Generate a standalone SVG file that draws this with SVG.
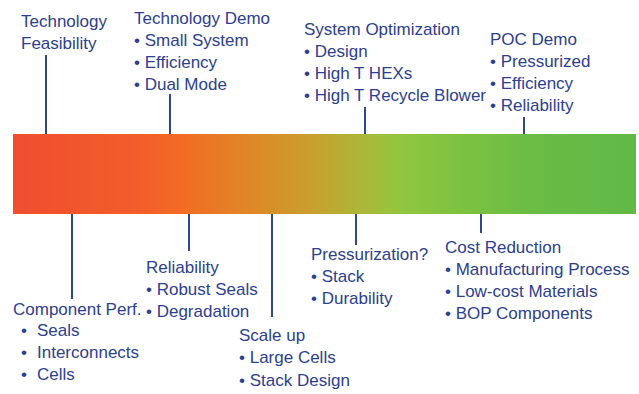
<svg xmlns="http://www.w3.org/2000/svg" width="639" height="394" viewBox="0 0 639 394">
  <defs>
    <linearGradient id="timeline" x1="0" y1="0" x2="1" y2="0">
      <stop offset="0" stop-color="#ef4e2f"/>
      <stop offset="0.2" stop-color="#f25d2a"/>
      <stop offset="0.27" stop-color="#f26b24"/>
      <stop offset="0.38" stop-color="#df8726"/>
      <stop offset="0.48" stop-color="#c8a02d"/>
      <stop offset="0.56" stop-color="#abb738"/>
      <stop offset="0.62" stop-color="#92c63e"/>
      <stop offset="0.72" stop-color="#7dc241"/>
      <stop offset="0.84" stop-color="#69bc45"/>
      <stop offset="1" stop-color="#61b946"/>
    </linearGradient>
  </defs>
  <style>
    text { font-family: "Liberation Sans", Arial, sans-serif; font-size: 17px; fill: #2c408f; }
    .tick { stroke: #2d4795; stroke-width: 2; fill: none; }
  </style>

  <rect width="639" height="394" fill="#ffffff"/>

  <!-- gradient timeline bar -->
  <rect id="bar" x="13" y="134" width="623" height="80" fill="url(#timeline)"/>

  <!-- milestone ticks -->
  <g id="connectors">
    <line class="tick" x1="46" y1="55" x2="46" y2="134"/>
    <line class="tick" x1="170" y1="94" x2="170" y2="134"/>
    <line class="tick" x1="365" y1="107" x2="365" y2="134"/>
    <line class="tick" x1="524" y1="117" x2="524" y2="134"/>
    <line class="tick" x1="72" y1="214" x2="72" y2="299"/>
    <line class="tick" x1="189" y1="214" x2="189" y2="251"/>
    <line class="tick" x1="272" y1="214" x2="272" y2="317"/>
    <line class="tick" x1="356" y1="214" x2="356" y2="245"/>
    <line class="tick" x1="481" y1="214" x2="481" y2="233"/>
  </g>

  <g id="tech-feasibility">
    <text x="21" y="27">Technology</text>
    <text x="21" y="49">Feasibility</text>
  </g>

  <g id="tech-demo">
    <text x="134" y="24">Technology Demo</text>
    <text x="134" y="46">• Small System</text>
    <text x="134" y="68">• Efficiency</text>
    <text x="134" y="90">• Dual Mode</text>
  </g>

  <g id="system-optimization">
    <text x="304" y="35">System Optimization</text>
    <text x="304" y="57">• Design</text>
    <text x="304" y="79">• High T HEXs</text>
    <text x="304" y="101">• High T Recycle Blower</text>
  </g>

  <g id="poc-demo">
    <text x="490" y="45">POC Demo</text>
    <text x="490" y="67">• Pressurized</text>
    <text x="490" y="89">• Efficiency</text>
    <text x="490" y="111">• Reliability</text>
  </g>

  <g id="component-perf">
    <text x="13" y="315">Component Perf.</text>
    <text x="21" y="336">•</text><text x="37" y="336">Seals</text>
    <text x="21" y="358">•</text><text x="37" y="358">Interconnects</text>
    <text x="21" y="380">•</text><text x="37" y="380">Cells</text>
  </g>

  <g id="reliability">
    <text x="146" y="273">Reliability</text>
    <text x="146" y="295">• Robust Seals</text>
    <text x="146" y="317">• Degradation</text>
  </g>

  <g id="scale-up">
    <text x="239" y="341">Scale up</text>
    <text x="239" y="363">• Large Cells</text>
    <text x="239" y="386">• Stack Design</text>
  </g>

  <g id="pressurization">
    <text x="311" y="260">Pressurization?</text>
    <text x="311" y="282">• Stack</text>
    <text x="311" y="304">• Durability</text>
  </g>

  <g id="cost-reduction">
    <text x="445" y="253">Cost Reduction</text>
    <text x="445" y="275">• Manufacturing Process</text>
    <text x="445" y="297">• Low-cost Materials</text>
    <text x="445" y="319">• BOP Components</text>
  </g>
</svg>
